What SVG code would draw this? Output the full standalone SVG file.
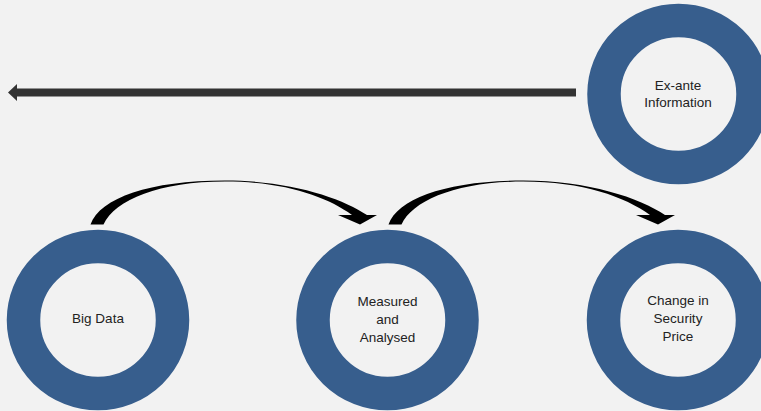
<svg xmlns="http://www.w3.org/2000/svg" width="761" height="411" viewBox="0 0 761 411">
<style>
.ring{fill:#F2F2F2;stroke:#375E8D;stroke-width:33.5}
.lbl{font-family:"Liberation Sans",Arial,sans-serif;font-size:13.5px;fill:#222;text-anchor:middle}
.curve{fill:#000}
</style>
<rect width="761" height="411" fill="#F2F2F2"/>
<g id="connectors">
<path d="M576,88.5 L17,88.5 L17,84 L8,92.5 L17,101 L17,96.5 L576,96.5 Z" fill="#333"/>
<path class="curve" d="M90.5,224.5 C100,198 150,180.5 225,180.5 C290,180.5 342,198 367,215 L377,215 L360,224.5 L338,215 L352,215 C327,197 285,181.6 225,181.6 C160,181.6 115,200 103.5,224.5 Z"/>
<path class="curve" transform="translate(298,0)" d="M90.5,224.5 C100,198 150,180.5 225,180.5 C290,180.5 342,198 367,215 L377,215 L360,224.5 L338,215 L352,215 C327,197 285,181.6 225,181.6 C160,181.6 115,200 103.5,224.5 Z"/>
</g>
<g id="exante">
<ellipse class="ring" cx="678.5" cy="94" rx="74.5" ry="73.5"/>
<text class="lbl" x="678" y="90">Ex-ante</text>
<text class="lbl" x="678" y="107">Information</text>
</g>
<g id="bigdata">
<ellipse class="ring" cx="98" cy="320" rx="74.5" ry="73.5"/>
<text class="lbl" x="98" y="323">Big Data</text>
</g>
<g id="measured">
<ellipse class="ring" cx="387.5" cy="320" rx="74.5" ry="73.5"/>
<text class="lbl" x="387.5" y="306">Measured</text>
<text class="lbl" x="387.5" y="324">and</text>
<text class="lbl" x="387.5" y="342">Analysed</text>
</g>
<g id="change">
<ellipse class="ring" cx="678" cy="320" rx="74.5" ry="73.5"/>
<text class="lbl" x="678" y="305">Change in</text>
<text class="lbl" x="678" y="323">Security</text>
<text class="lbl" x="678" y="341">Price</text>
</g>
</svg>
